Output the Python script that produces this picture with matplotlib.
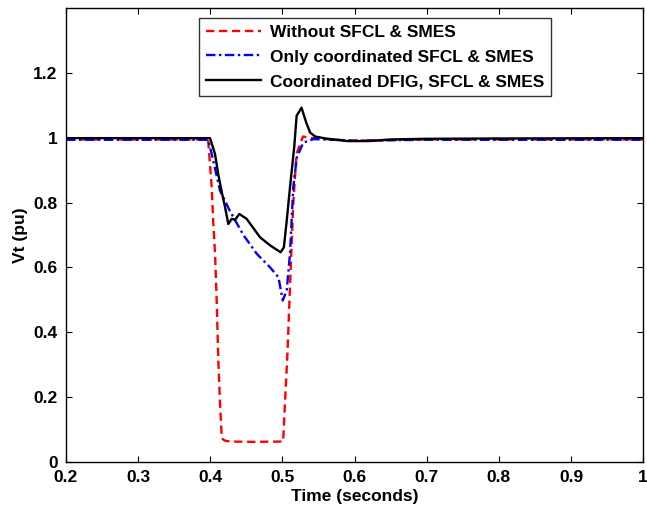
import numpy as np
import matplotlib
matplotlib.use("Agg")
import matplotlib.pyplot as plt

# ============================================================
# DATA
# ============================================================
t_red = [0.20, 0.30, 0.397, 0.402, 0.404, 0.4066, 0.409, 0.411, 0.4135, 0.416, 0.42,
         0.427, 0.46, 0.501, 0.5035, 0.507, 0.5105, 0.515, 0.5195, 0.5285, 0.538,
         0.56, 0.60, 0.63, 0.70, 0.80, 1.00]
v_red = [0.995, 0.995, 0.995, 0.847, 0.745, 0.643, 0.489, 0.324, 0.18, 0.073, 0.066,
         0.063, 0.062, 0.063, 0.18, 0.335, 0.54, 0.796, 0.95, 1.004, 1.0,
         0.996, 0.991, 0.992, 0.995, 0.995, 0.995]

t_blue = [0.20, 0.30, 0.397, 0.402, 0.4135, 0.427, 0.446, 0.4645, 0.483, 0.4945,
          0.5005, 0.506, 0.5105, 0.515, 0.52, 0.529, 0.543, 0.56, 0.60, 0.63,
          0.70, 0.80, 1.00]
v_blue = [0.994, 0.994, 0.994, 0.95, 0.837, 0.775, 0.70, 0.642, 0.60, 0.57,
          0.498, 0.53, 0.642, 0.847, 0.94, 0.985, 0.996, 0.995, 0.991, 0.992,
          0.994, 0.994, 0.994]

t_black = [0.20, 0.30, 0.3997, 0.4066, 0.411, 0.416, 0.4205, 0.425, 0.4297, 0.4343,
           0.4403, 0.4504, 0.469, 0.483, 0.4975, 0.502, 0.506, 0.5105, 0.5165,
           0.5197, 0.5265, 0.533, 0.5385, 0.5455, 0.56, 0.59, 0.62, 0.65, 0.70,
           0.80, 1.00]
v_black = [0.999, 0.999, 0.999, 0.95, 0.888, 0.832, 0.786, 0.734, 0.75, 0.747,
           0.765, 0.75, 0.693, 0.668, 0.647, 0.662, 0.745, 0.847, 0.975,
           1.068, 1.093, 1.047, 1.016, 1.004, 0.998, 0.99, 0.99, 0.995, 0.997,
           0.998, 0.999]

labels = ["Without SFCL & SMES",
          "Only coordinated SFCL & SMES",
          "Coordinated DFIG, SFCL & SMES"]

x_ticks = [0.2, 0.3, 0.4, 0.5, 0.6, 0.7, 0.8, 0.9, 1.0]
x_tick_labels = ["0.2", "0.3", "0.4", "0.5", "0.6", "0.7", "0.8", "0.9", "1"]
y_ticks = [0, 0.2, 0.4, 0.6, 0.8, 1.0, 1.2]
y_tick_labels = ["0", "0.2", "0.4", "0.6", "0.8", "1", "1.2"]

# ============================================================
# PLOT
# ============================================================
plt.rcParams["font.family"] = ["Liberation Sans", "DejaVu Sans"]
plt.rcParams["font.weight"] = "bold"

fig = plt.figure(figsize=(6.47, 5.11), dpi=100)
ax = fig.add_axes([0.102, 0.096, 0.892, 0.888])

ax.plot(t_red, v_red, color="red", linestyle=(0, (3.5, 2.0)), linewidth=1.7, label=labels[0])
ax.plot(t_blue, v_blue, color="blue", linestyle=(0, (4, 1.5, 1, 1.5)), linewidth=1.7, label=labels[1])
ax.plot(t_black, v_black, color="black", linestyle="-", linewidth=1.7, label=labels[2])

ax.set_xlim(0.2, 1.0)
ax.set_ylim(0, 1.4)
ax.set_xticks(x_ticks)
ax.set_xticklabels(x_tick_labels)
ax.set_yticks(y_ticks)
ax.set_yticklabels(y_tick_labels)
ax.tick_params(direction="in", top=True, right=True, labelsize=12.5, length=4, width=0.8)
ax.tick_params(axis="x", pad=6)
ax.tick_params(axis="y", pad=6)
for lbl in ax.get_xticklabels() + ax.get_yticklabels():
    lbl.set_fontweight("bold")
for sp in ax.spines.values():
    sp.set_linewidth(1.0)

ax.set_xlabel("Time (seconds)", fontsize=12.5, fontweight="bold", labelpad=3)
ax.set_ylabel("Vt (pu)", fontsize=12.5, fontweight="bold", labelpad=4)

leg = ax.legend(loc="upper center", bbox_to_anchor=(0.535, 0.998), fontsize=12.5,
                frameon=True, fancybox=False, edgecolor="black", handlelength=3.2,
                borderpad=0.4, labelspacing=0.55, handletextpad=0.5)
leg.get_frame().set_linewidth(1.0)
for txt in leg.get_texts():
    txt.set_fontweight("bold")

plt.savefig("out.png", dpi=100)
